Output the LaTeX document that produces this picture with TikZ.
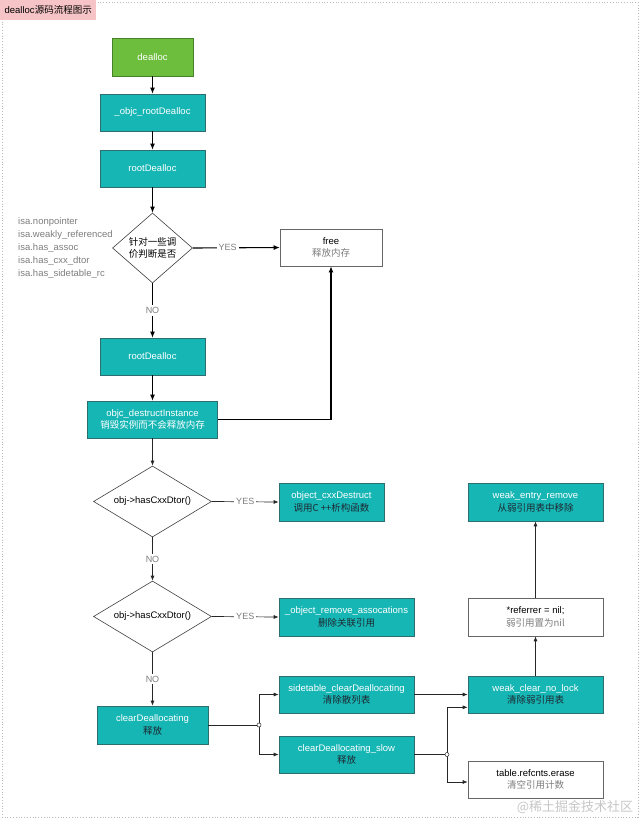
\documentclass[tikz,border=0pt]{standalone}
\usepackage{fontspec}
\setmainfont{Liberation Sans}
\newfontfamily\cjk{Noto Sans CJK SC}
\usetikzlibrary{arrows.meta,shapes.geometric,calc}
\definecolor{tealfill}{RGB}{22,182,180}
\definecolor{tealedge}{RGB}{45,110,112}
\definecolor{greenfill}{RGB}{108,190,60}
\definecolor{greenedge}{RGB}{70,130,40}
\definecolor{pinkfill}{RGB}{246,196,198}
\definecolor{labgray}{RGB}{125,125,125}
\definecolor{subdark}{RGB}{30,40,50}
\begin{document}
\begin{tikzpicture}[x=1pt,y=-1pt,
  every node/.style={inner sep=1pt},
  tbox/.style={draw=tealedge, fill=tealfill, line width=0.6pt, align=center,
    font=\fontsize{9.5}{12.5}\selectfont, text=white},
  gbox/.style={draw=greenedge, fill=greenfill, line width=0.6pt, align=center,
    font=\fontsize{9.5}{12.5}\selectfont, text=white},
  wbox/.style={draw=black!60, fill=white, line width=0.6pt, align=center,
    font=\fontsize{9.5}{12.5}\selectfont, text=black},
  dia/.style={diamond, draw=black!75, fill=white, line width=0.6pt, align=center,
    inner sep=0pt, font=\fontsize{9.5}{12.5}\selectfont, text=black},
  lab/.style={fill=white, text=labgray, font=\fontsize{9}{11}\selectfont, inner sep=2pt},
  thick arrow/.style={draw=black, line width=1.1pt, -{Latex[length=6pt,width=5pt]}},
  thin arrow/.style={draw=black!85, line width=0.7pt, -{Latex[length=5pt,width=4pt]}},
  thin line/.style={draw=black!85, line width=0.7pt},
  junction/.style={circle, draw=black!85, fill=white, line width=0.5pt, minimum size=4pt, inner sep=0pt}
]
\useasboundingbox (0,0) rectangle (640,820);
\draw[gray!55, dotted, line width=0.8pt] (2,2) rectangle (638,817);

% title
\node[fill=pinkfill, anchor=north west, minimum width=96pt, minimum height=20pt,
  font=\fontsize{9.5}{11}\selectfont, text=black] (title) at (0,0) {dealloc{\cjk 源码流程图示}};

% main column
\node[gbox, minimum width=81pt, minimum height=38pt] (dealloc) at (152.5,57) {dealloc};
\node[tbox, minimum width=105pt, minimum height=37pt] (r1) at (152.5,112.5) {\_objc\_rootDealloc};
\node[tbox, minimum width=105pt, minimum height=37pt] (r2) at (152.5,168.5) {rootDealloc};
\node[dia, aspect=1.14, minimum width=80pt, minimum height=70pt] (d1) at (152.5,248)
  {\cjk\fontsize{9.5}{13}\selectfont 针对一些调\\ \cjk\fontsize{9.5}{13}\selectfont 价判断是否};
\node[anchor=west, align=left, text=labgray, font=\fontsize{9.5}{13}\selectfont] (flags) at (17,248)
  {isa.nonpointer\\isa.weakly\_referenced\\isa.has\_assoc\\isa.has\_cxx\_dtor\\isa.has\_sidetable\_rc};
\node[wbox, minimum width=102pt, minimum height=37pt] (free) at (331,247.5)
  {free\\{\cjk\color{labgray} 释放内存}};
\node[tbox, minimum width=105pt, minimum height=37pt] (r3) at (152.5,356.5) {rootDealloc};
\node[tbox, minimum width=130pt, minimum height=37pt] (odi) at (152.5,419.5)
  {objc\_destructInstance\\{\cjk 销毁实例而不会释放内存}};
\node[dia, aspect=1.66, minimum width=118pt, minimum height=71pt] (d2) at (152.5,501.5) {obj->hasCxxDtor()};
\node[tbox, minimum width=105pt, minimum height=38pt] (cxx) at (331.5,502)
  {object\_cxxDestruct\\{\cjk\color{subdark} 调用C ++析构函数}};
\node[dia, aspect=1.66, minimum width=118pt, minimum height=71pt] (d3) at (152.5,616.5) {obj->hasCxxDtor()};
\node[tbox, minimum width=135pt, minimum height=38pt] (assoc) at (346.5,617)
  {\_object\_remove\_assocations\\{\cjk\color{subdark} 删除关联引用}};
\node[tbox, minimum width=111pt, minimum height=38pt] (cd) at (152.5,725)
  {clearDeallocating\\{\cjk\color{subdark} 释放}};
\node[tbox, minimum width=135pt, minimum height=37pt] (st) at (346.5,694.5)
  {sidetable\_clearDeallocating\\{\cjk\color{subdark} 清除散列表}};
\node[tbox, minimum width=135pt, minimum height=37pt] (slow) at (346.5,754.5)
  {clearDeallocating\_slow\\{\cjk\color{subdark} 释放}};
\node[tbox, minimum width=135pt, minimum height=37pt] (wcnl) at (535.5,694.5)
  {weak\_clear\_no\_lock\\{\cjk\color{subdark} 清除弱引用表}};
\node[wbox, minimum width=135pt, minimum height=38pt] (ref) at (535.5,617)
  {*referrer = nil;\\{\cjk\color{labgray} 弱引用置为nil}};
\node[tbox, minimum width=135pt, minimum height=38pt] (wer) at (535.5,502)
  {weak\_entry\_remove\\{\cjk\color{subdark} 从弱引用表中移除}};
\node[wbox, minimum width=135pt, minimum height=37pt] (tre) at (535.5,779.5)
  {table.refcnts.erase\\{\cjk\color{labgray} 清空引用计数}};

% watermark
\node[text=gray!45, font=\cjk\fontsize{13}{15}\selectfont] (wm) at (575,807) {@稀土掘金技术社区};

% connectors (upper)
\draw[thick arrow] (dealloc) -- (r1);
\draw[thick arrow] (r1) -- (r2);
\draw[thick arrow] (r2) -- (d1.north);
\draw[thick arrow] (d1.east) -- node[lab, pos=0.4] {YES} (free.west);
\draw[thick arrow] (d1.south) -- node[lab] {NO} (r3.north);
\draw[thick arrow] (r3) -- (odi);
\draw[thick arrow] (odi.east) -| (free.south);

% connectors (lower)
\draw[thin arrow] (odi.south) -- (d2.north);
\draw[thin arrow] (d2.east) -- node[lab] {YES} (cxx.west);
\draw[thin arrow] (d2.south) -- node[lab] {NO} (d3.north);
\draw[thin arrow] (d3.east) -- node[lab] {YES} (assoc.west);
\draw[thin arrow] (d3.south) -- node[lab] {NO} (cd.north);

\coordinate (j1) at (259,725);
\draw[thin line] (cd.east) -- (j1);
\draw[thin arrow] (j1) |- (st.west);
\draw[thin arrow] (j1) |- (slow.west);
\node[junction] (jc1) at (j1) {};

\draw[thin arrow] (st.east) -- (wcnl.west);
\coordinate (j2) at (447,754.5);
\coordinate (wcin) at ($(wcnl.south west)+(0,-6)$);
\draw[thin line] (slow.east) -- (j2);
\draw[thin arrow] (j2) |- (wcin);
\draw[thin arrow] (j2) |- ($(tre.west)+(0,2.5)$);
\node[junction] (jc2) at (j2) {};

\draw[thin arrow] (wcnl.north) -- (ref.south);
\draw[thin arrow] (ref.north) -- (wer.south);
\end{tikzpicture}
\end{document}
